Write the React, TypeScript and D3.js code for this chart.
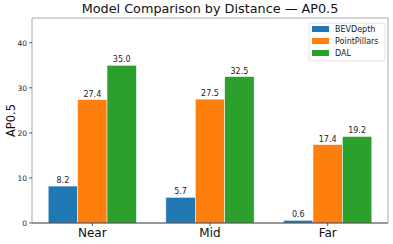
import React, { useEffect, useRef } from 'react';
import * as d3 from 'd3';

const categories = ['Near', 'Mid', 'Far'];
const seriesNames = ['BEVDepth', 'PointPillars', 'DAL'];
const bevDepth = [8.2, 5.7, 0.6];
const pointPillars = [27.4, 27.5, 17.4];
const dal = [35.0, 32.5, 19.2];
const yTicks = [0, 10, 20, 30, 40];
const colors = ['#1f77b4', '#ff7f0e', '#2ca02c'];

const W = 393;
const H = 244;

export default function App() {
  const svgRef = useRef<SVGSVGElement>(null);

  useEffect(() => {
    if (!svgRef.current) return;
    const svg = d3.select(svgRef.current);
    svg.selectAll('*').remove();

    const left = 32, right = 388, top = 18, bottom = 223;
    const font = 'DejaVu Sans, sans-serif';
    const series = [bevDepth, pointPillars, dal];
    const barW = 0.25;

    const x = d3.scaleLinear().domain([-0.5125, 2.5125]).range([left, right]);
    const y = d3.scaleLinear().domain([0, 45.5]).range([bottom, top]);

    // Bars
    series.forEach((vals, si) => {
      const g = svg.append('g');
      vals.forEach((v, ci) => {
        const cx = ci + (si - 1) * barW;
        g.append('rect')
          .attr('x', x(cx - barW / 2))
          .attr('y', y(v))
          .attr('width', x(cx + barW / 2) - x(cx - barW / 2))
          .attr('height', y(0) - y(v))
          .attr('fill', colors[si])
          .attr('stroke', '#ffffff')
          .attr('stroke-width', 0.5);
        g.append('text')
          .attr('x', x(cx))
          .attr('y', y(v) - 3)
          .attr('text-anchor', 'middle')
          .style('font-family', font)
          .style('font-size', '8px')
          .attr('fill', '#222')
          .text(v.toFixed(1));
      });
    });

    // Spines
    svg.append('line').attr('x1', left).attr('x2', left).attr('y1', top).attr('y2', bottom).attr('stroke', '#aaa').attr('stroke-width', 1);
    svg.append('line').attr('x1', right).attr('x2', right).attr('y1', top).attr('y2', bottom).attr('stroke', '#aaa').attr('stroke-width', 1);
    svg.append('line').attr('x1', left).attr('x2', right).attr('y1', top).attr('y2', top).attr('stroke', '#aaa').attr('stroke-width', 1);
    svg.append('line').attr('x1', left).attr('x2', right).attr('y1', bottom).attr('y2', bottom).attr('stroke', '#333').attr('stroke-width', 1);

    // Y axis ticks
    yTicks.forEach(t => {
      svg.append('line').attr('x1', left - 3).attr('x2', left).attr('y1', y(t)).attr('y2', y(t)).attr('stroke', '#333').attr('stroke-width', 0.8);
      svg.append('text')
        .attr('x', left - 5)
        .attr('y', y(t) + 3)
        .attr('text-anchor', 'end')
        .style('font-family', font)
        .style('font-size', '7.5px')
        .attr('fill', '#222')
        .text(t);
    });

    // X axis ticks
    categories.forEach((c, i) => {
      svg.append('line').attr('x1', x(i)).attr('x2', x(i)).attr('y1', bottom).attr('y2', bottom + 3).attr('stroke', '#333').attr('stroke-width', 0.8);
      svg.append('text')
        .attr('x', x(i))
        .attr('y', bottom + 14)
        .attr('text-anchor', 'middle')
        .style('font-family', font)
        .style('font-size', '12px')
        .attr('fill', '#111')
        .text(c);
    });

    // Y label
    svg.append('text')
      .attr('transform', `translate(15,${(top + bottom) / 2}) rotate(-90)`)
      .attr('text-anchor', 'middle')
      .style('font-family', font)
      .style('font-size', '11.5px')
      .attr('fill', '#111')
      .text('AP0.5');

    // Title
    svg.append('text')
      .attr('x', (left + right) / 2)
      .attr('y', 13)
      .attr('text-anchor', 'middle')
      .style('font-family', font)
      .style('font-size', '12.8px')
      .attr('fill', '#111')
      .text('Model Comparison by Distance — AP0.5');

    // Legend
    const lg = svg.append('g');
    lg.append('rect').attr('x', 309).attr('y', 23).attr('width', 76).attr('height', 38).attr('rx', 2)
      .attr('fill', '#fff').attr('fill-opacity', 0.8).attr('stroke', '#ddd').attr('stroke-width', 0.8);
    seriesNames.forEach((n, i) => {
      const ry = 29 + i * 12;
      lg.append('rect').attr('x', 312).attr('y', ry - 3).attr('width', 17).attr('height', 6).attr('fill', colors[i]);
      lg.append('text')
        .attr('x', 335)
        .attr('y', ry + 3)
        .style('font-family', font)
        .style('font-size', '8px')
        .attr('fill', '#222')
        .text(n);
    });
  }, []);

  return (
    <div style={{ position: 'absolute', left: 0, top: 0, background: '#fff' }}>
      <svg ref={svgRef} width={W} height={H} viewBox={`0 0 ${W} ${H}`} />
    </div>
  );
}
